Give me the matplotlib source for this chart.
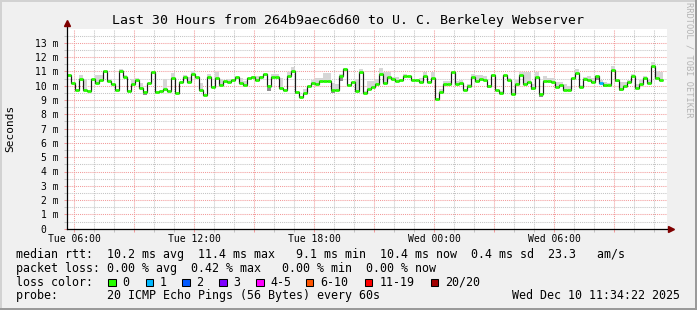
import matplotlib
matplotlib.use("Agg")
import matplotlib.pyplot as plt
from matplotlib.patches import Rectangle
from matplotlib.transforms import IdentityTransform

# ---------------- data ----------------
title = "Last 30 Hours from 264b9aec6d60 to U. C. Berkeley Webserver"
ylabel = "Seconds"
start_hour = 5 + 38 / 60      # first sample: Tue 05:38 (hours since Tue 00:00)
step_hours = 0.2              # 12 minute consolidation steps

median_ms = [
    10.74, 10.20, 9.70, 10.48, 9.70, 9.60, 10.46, 10.22, 10.40, 11.02,
    10.32, 10.13, 9.70, 11.05, 10.62, 9.60, 10.15, 10.40, 9.85, 9.54,
    10.18, 10.98, 9.57, 9.66, 9.75,
    9.60, 10.55, 9.47, 10.27, 10.62, 10.27, 10.84, 10.62, 9.70, 9.35,
    10.62, 9.90, 10.55, 10.06, 10.32, 10.27, 10.41, 10.62, 10.20, 10.06,
    10.55, 10.62, 10.41, 10.62, 10.84,
    9.99, 10.62, 10.62, 9.85, 9.70, 10.65, 11.02, 9.57, 9.21, 9.50,
    10.00, 10.18, 10.13, 10.32, 10.32, 10.32, 9.70, 9.70, 10.69, 11.16,
    10.06, 10.27, 9.60, 10.98, 9.47,
    9.75, 9.92, 10.13, 10.84, 10.20, 10.62, 10.48, 10.34, 10.41, 10.69,
    10.69, 10.41, 10.41, 10.27, 10.69, 10.27, 10.55, 9.05, 9.57, 10.13,
    10.13, 10.98, 10.13, 10.20, 9.70,
    9.99, 10.62, 10.34, 10.48, 10.41, 9.99, 10.76, 9.70, 9.50, 10.76,
    10.41, 9.42, 10.13, 10.76, 10.13, 10.27, 9.85, 10.62, 9.42, 10.34,
    10.34, 10.27, 9.90, 10.06, 9.70,
    9.70, 10.55, 10.90, 9.90, 10.48, 10.41, 10.27, 10.69, 10.20, 10.04,
    10.06, 11.12, 10.41, 9.78, 9.99, 10.27, 10.69, 9.85, 10.13, 10.55,
    10.20, 11.40, 10.55, 10.41,
]
loss_steps = [133]            # steps that lost packets
loss_counts = [1]             # packets lost in those steps

smoke_steps = [3, 4, 7, 8, 10, 13, 14, 16, 17, 18, 19, 21, 24,
               26, 29, 30, 31, 33, 35, 37, 38, 40, 41, 43, 44, 46, 47, 48,
               50, 51, 52, 53, 55, 56, 57, 59, 61, 62, 63, 64, 65, 66, 67, 68, 69, 72, 73, 74,
               75, 76, 77, 78, 79, 80, 81, 82, 84, 88, 89, 91, 93, 94, 95, 97, 98,
               100, 101, 102, 103, 104, 105, 106, 108, 110, 111, 112, 113, 114, 115, 116,
               117, 118, 119, 120, 121, 122, 123, 124,
               125, 127, 128, 129, 130, 131, 132, 133, 134, 135, 136, 137, 138, 139, 140,
               141, 142, 143, 144, 145, 146, 147, 148]
smoke_lo = [10.48, 9.70, 10.22, 10.40, 10.32, 11.05, 10.62, 10.15, 10.40, 9.85, 9.33, 10.98, 9.75,
            10.55, 10.62, 10.27, 10.84, 9.70, 10.62, 10.55, 10.06, 10.27, 10.41, 10.20, 10.06, 10.62, 10.41, 10.62,
            9.64, 10.55, 10.55, 9.85, 10.65, 11.02, 9.42, 9.50, 10.18, 10.13, 10.32, 10.32, 10.32, 9.52, 9.70, 10.35, 11.16, 9.60, 10.98, 9.47,
            9.75, 9.92, 10.13, 10.84, 10.20, 10.62, 10.48, 10.34, 10.69, 10.27, 10.69, 10.55, 9.57, 10.13, 10.13, 10.13, 10.20,
            9.99, 10.62, 10.34, 10.48, 10.41, 9.82, 10.76, 9.50, 10.41, 9.42, 10.13, 10.76, 10.13, 10.27, 9.71,
            10.62, 9.24, 10.34, 10.34, 10.27, 9.90, 10.06, 9.70,
            9.70, 10.90, 9.90, 10.48, 10.41, 10.27, 10.41, 10.20, 9.89, 10.06, 11.12, 10.27, 9.64, 9.99, 10.27,
            10.69, 9.85, 10.13, 10.55, 10.20, 11.40, 10.55, 10.41]
smoke_hi = [10.74, 10.46, 10.74, 10.74, 10.46, 11.16, 10.74, 10.46, 10.51, 10.18, 9.54, 11.05, 10.50,
            10.88, 10.74, 10.62, 11.00, 10.18, 10.84, 10.98, 10.50, 10.50, 10.50, 10.55, 10.32, 10.69, 10.69, 10.69,
            9.99, 10.84, 10.84, 10.55, 10.98, 11.28, 9.57, 9.75, 10.41, 10.55, 10.55, 10.88, 10.90, 10.18, 10.11, 10.84, 11.21, 10.46, 11.16, 9.64,
            10.34, 10.34, 10.46, 11.21, 10.93, 10.98, 10.58, 10.58, 10.84, 10.55, 10.93, 10.93, 9.75, 10.32, 10.32, 10.32, 10.41,
            10.11, 10.84, 10.74, 10.74, 10.65, 9.99, 10.84, 9.61, 10.55, 9.75, 10.41, 10.98, 10.93, 10.93, 10.11,
            10.98, 9.42, 10.69, 10.55, 10.55, 10.27, 10.27, 10.11,
            9.99, 11.16, 10.04, 10.62, 10.69, 10.51, 10.69, 10.41, 10.27, 10.18, 11.40, 10.41, 10.27, 10.27, 10.41,
            10.84, 10.13, 10.41, 10.69, 10.41, 11.64, 11.05, 10.93]

x_range_hours = (5.65, 35.65)
major_grid_hours = [6, 9, 12, 15, 18, 21, 24, 27, 30, 33]
xtick_hours = [6, 12, 18, 24, 30]
xtick_labels = ["Tue 06:00", "Tue 12:00", "Tue 18:00", "Wed 00:00", "Wed 06:00"]
y_range_ms = (0, 14)
ytick_values = list(range(0, 14))

loss_labels = ["0", "1", "2", "3", "4-5", "6-10", "11-19", "20/20"]
loss_colors = ["#26FF00", "#00B8FF", "#0059FF", "#7E00FF", "#FF00FF", "#FF5500", "#FF0000", "#A10000"]

stat_rtt = "median rtt:  10.2 ms avg  11.4 ms max   9.1 ms min  10.4 ms now  0.4 ms sd  23.3   am/s"
stat_loss = "packet loss: 0.00 % avg  0.42 % max   0.00 % min  0.00 % now"
loss_title = "loss color:"
probe_line = "probe:       20 ICMP Echo Pings (56 Bytes) every 60s"
date_line = "Wed Dec 10 11:34:22 2025"
watermark = "RRDTOOL / TOBI OETIKER"

# ---------------- layout ----------------
W, H = 697, 310
MONO = "DejaVu Sans Mono"
plt.rcParams["font.family"] = [MONO, "DejaVu Sans"]

fig = plt.figure(figsize=(W / 100, H / 100), dpi=100, facecolor="#F0F0F0")
ax_left, ax_right, ax_top, ax_bot = 67, 667, 28.5, 228.7
ax = fig.add_axes([ax_left / W, 1 - ax_bot / H, (ax_right - ax_left) / W, (ax_bot - ax_top) / H])
ax.set_facecolor("white")
for s in ax.spines.values():
    s.set_visible(False)

ax.set_xlim(*x_range_hours)
ax.set_ylim(*y_range_ms)

# grid
MGRID = "#F29A9A"
GRID = "#C4C4C4"
ax.set_xticks(major_grid_hours)
ax.set_xticklabels([xtick_labels[xtick_hours.index(h)] if h in xtick_hours else "" for h in major_grid_hours])
ax.set_xticks([h for h in range(6, 36) if h not in major_grid_hours], minor=True)
ax.set_yticks(ytick_values)
ax.set_yticklabels([f"{v} m" if v else "0  " for v in ytick_values])
ax.set_yticks([v + 0.5 for v in ytick_values], minor=True)
dot = (0, (1, 1))
ax.grid(True, which="minor", color=GRID, lw=0.75, ls=dot)
ax.grid(True, which="major", color=MGRID, lw=0.75, ls=dot)
ax.set_axisbelow(True)
ax.tick_params(which="major", length=2.2, width=0.75, color=MGRID, labelsize=7, labelcolor="black")
ax.tick_params(which="minor", length=2.2, width=0.75, color=GRID)
ax.tick_params(axis="x", which="major", pad=1.5)
ax.tick_params(axis="y", which="major", pad=3.6)
for lbl in ax.get_xticklabels() + ax.get_yticklabels():
    lbl.set_family(MONO)

# smoke
edges = [start_hour + i * step_hours for i in range(len(median_ms) + 1)]
for k, lo, hi in zip(smoke_steps, smoke_lo, smoke_hi):
    med = median_ms[k]
    if hi > med:
        ax.bar(edges[k], hi - med, bottom=med, width=step_hours, align="edge",
               color="#D6D6D6", lw=0, zorder=2)
    if lo < med:
        ax.bar(edges[k], med - lo, bottom=lo, width=step_hours, align="edge",
               color="#8E8E8E", lw=0, zorder=2)

# median line
ax.stairs(median_ms, edges, color="#1A1A1A", lw=0.85, zorder=3, baseline=None)
seg_colors = []
for k in range(len(median_ms)):
    lost = loss_counts[loss_steps.index(k)] if k in loss_steps else 0
    seg_colors.append(loss_colors[min(lost, 3)])
ax.hlines(median_ms, edges[:-1], edges[1:], colors=seg_colors, lw=2.0, zorder=4)

# axes with arrows
ax.plot([0, 1.008], [0, 0], transform=ax.transAxes, color="black", lw=0.9, clip_on=False, zorder=6)
ax.plot([0, 0], [0, 1.02], transform=ax.transAxes, color="black", lw=0.9, clip_on=False, zorder=6)
ax.plot([1.006], [0], marker=">", ms=4.2, color="#7F0000", transform=ax.transAxes, clip_on=False, zorder=7)
ax.plot([0], [1.026], marker="^", ms=4.2, color="#7F0000", transform=ax.transAxes, clip_on=False, zorder=7)

# ---------------- texts ----------------
def ft(x, y, s, **kw):
    kw.setdefault("family", MONO)
    return fig.text(x / W, 1 - y / H, s, **kw)

ft(347.7, 24, title, ha="center", va="baseline", fontsize=9.55)
ft(10, 128.6, ylabel, ha="center", va="center", rotation=90, fontsize=8.0)
ft(688.5, 60, watermark, ha="center", va="center", rotation=270, fontsize=6.2, color="#B4B4B4")

LFS = 8.35
ft(15.5, 258.0, stat_rtt, ha="left", va="baseline", fontsize=LFS)
ft(15.5, 271.7, stat_loss, ha="left", va="baseline", fontsize=LFS)
ft(15.5, 285.5, loss_title, ha="left", va="baseline", fontsize=LFS)
ft(15.5, 299.3, probe_line, ha="left", va="baseline", fontsize=LFS)
ft(680.5, 299.3, date_line, ha="right", va="baseline", fontsize=LFS)

box_left = [108.3, 145.7, 182.3, 219.3, 256.3, 306.0, 365.0, 431.0]
for bx, col, lab in zip(box_left, loss_colors, loss_labels):
    fig.patches.append(Rectangle((bx, H - 286.0), 7.3, 7.3, transform=IdentityTransform(),
                                 facecolor=col, edgecolor="black", lw=0.75, figure=fig))
    ft(bx + 14.3, 285.5, lab, ha="left", va="baseline", fontsize=LFS)

# 3D frame
for (x0, y0, w, h, c) in [(0, H - 2, W, 2, "#D2D2D2"), (0, 0, 2, H, "#D2D2D2"),
                          (0, 0, W, 2, "#9A9A9A"), (W - 2, 0, 2, H, "#9A9A9A")]:
    fig.patches.append(Rectangle((x0, y0), w, h, transform=IdentityTransform(),
                                 facecolor=c, edgecolor="none", figure=fig))

fig.savefig("out.png", dpi=100, facecolor=fig.get_facecolor())
